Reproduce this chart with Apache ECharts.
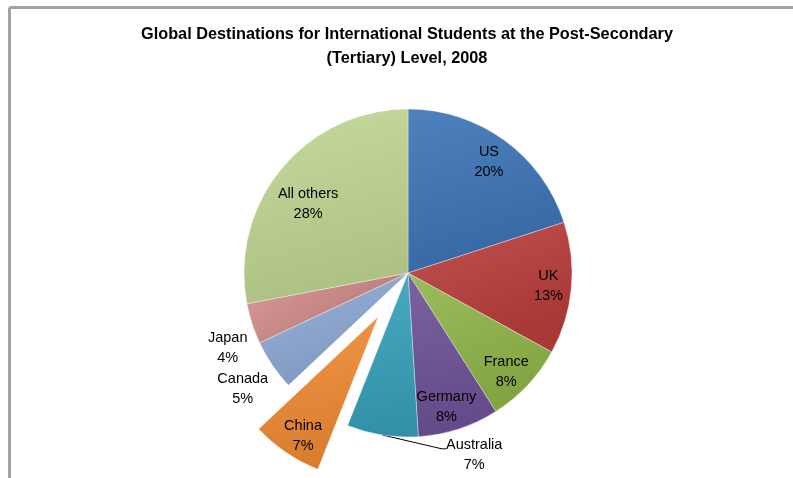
<!DOCTYPE html>
<html><head><meta charset="utf-8">
<script src="https://cdn.jsdelivr.net/npm/echarts@6/dist/echarts.min.js"></script>
<style>html,body{margin:0;padding:0;background:#fff}#c{width:793px;height:478px}</style>
</head><body><div id="c"></div>
<script>
const categories = ['US','UK','France','Germany','Australia','China','Canada','Japan','All others'];
const shares = [20,13,8,8,7,7,5,4,28];
const titleLines = ['Global Destinations for International Students at the Post-Secondary','(Tertiary) Level, 2008'];
const explodedCategory = 'China';

const colors = ['#3d73b8','#bb3f3c','#91b64a','#6d5197','#35a0bb','#f08a32','#8eabd6','#d6908e','#c0d693'];
const CX = 408, CY = 273, R = 164, EXPLODE = 53;
// label placement: [radius factor, angle shift in degrees]
const labelPlace = {
  'US':[0.84,0], 'UK':[0.86,0], 'France':[0.85,2], 'Germany':[0.85,2],
  'Australia':[1.18,-29], 'China':[0.86,-2], 'Canada':[1.23,-0.8], 'Japan':[1.19,-4.5], 'All others':[0.74,-5]
};
const outsideLabels = ['Australia','Canada','Japan'];

function shade(hex, f) {
  const n = parseInt(hex.slice(1), 16);
  let r = n >> 16, g = (n >> 8) & 255, b = n & 255;
  const t = f < 0 ? 0 : 255, p = Math.abs(f);
  r = Math.round((t - r) * p + r); g = Math.round((t - g) * p + g); b = Math.round((t - b) * p + b);
  return 'rgb(' + r + ',' + g + ',' + b + ')';
}

const total = shares.reduce((a, b) => a + b, 0);
const midAngles = [];
let cum = 0;
shares.forEach(v => { midAngles.push(360 * (cum + v / 2) / total); cum += v; });
const exIdx = categories.indexOf(explodedCategory);
const exTh = midAngles[exIdx] * Math.PI / 180;
const centers = [[CX, CY], [CX + EXPLODE * Math.sin(exTh), CY - EXPLODE * Math.cos(exTh)]];

const HIDDEN = 'rgba(0,0,0,0)';
function makeData(showExploded) {
  return categories.map((name, i) => {
    const c = colors[i];
    const visible = (name === explodedCategory) === showExploded;
    if (!visible) {
      return {name, value: shares[i], itemStyle:{color:HIDDEN, borderWidth:0}, label:{show:false}, labelLine:{show:false}};
    }
    const grad = {type:'linear', x:0, y:0, x2:0.3, y2:1, colorStops:[
      {offset:0, color: shade(c, 0.1)}, {offset:1, color: shade(c, -0.1)}]};
    return {
      name, value: shares[i],
      itemStyle: {color: grad},
      label: {show:true, position: outsideLabels.includes(name) ? 'outside' : 'inside'},
      labelLine: {show: name === 'Australia', lineStyle:{color:'#000', width:1}}
    };
  });
}

function labelLayout(params) {
  const i = params.dataIndex;
  const name = categories[i];
  const pl = labelPlace[name];
  const th = midAngles[i] * Math.PI / 180;
  const ctr = centers[params.seriesIndex];
  const ta = th + pl[1] * Math.PI / 180;
  const x = ctr[0] + pl[0] * R * Math.sin(ta);
  const y = ctr[1] - pl[0] * R * Math.cos(ta);
  const res = {x, y, align:'center', verticalAlign:'middle'};
  if (name === 'Australia') {
    const hw = params.labelRect.width / 2;
    const sx = ctr[0] + R * Math.sin(th), sy = ctr[1] - R * Math.cos(th);
    res.labelLinePoints = [[sx, sy], [x - hw - 4, y - 6], [x - hw, y - 6]];
  }
  return res;
}

const baseSeries = {
  type: 'pie',
  radius: [0, R],
  startAngle: 90,
  clockwise: true,
  avoidLabelOverlap: false,
  silent: true,
  emphasis: {disabled: true},
  itemStyle: {borderColor:'rgba(255,255,255,0.35)', borderWidth:1},
  label: {
    show: true, color:'#000', fontFamily:'Liberation Sans', fontSize:14.5, lineHeight:20,
    formatter: p => p.name + '\n' + Math.round(p.percent) + '%'
  },
  labelLayout
};

const chart = echarts.init(document.getElementById('c'), null, {renderer:'canvas'});
chart.setOption({
  animation: false,
  backgroundColor: '#fff',
  title: {
    text: titleLines.join('\n'),
    left: 407, top: 23, padding: 0, textAlign: 'center',
    textStyle: {fontFamily:'Liberation Sans', fontSize:16.3, fontWeight:'bold', color:'#000', lineHeight:24}
  },
  graphic: [
    {type:'line', shape:{x1:9.5, y1:7.5, x2:793, y2:7.5}, style:{stroke:'#a3a3a3', lineWidth:3}},
    {type:'line', shape:{x1:9.5, y1:7.5, x2:9.5, y2:478}, style:{stroke:'#a3a3a3', lineWidth:3}}
  ],
  series: [
    Object.assign({}, baseSeries, {center: centers[0], data: makeData(false)}),
    Object.assign({}, baseSeries, {center: centers[1], data: makeData(true)})
  ]
});
</script></body></html>
